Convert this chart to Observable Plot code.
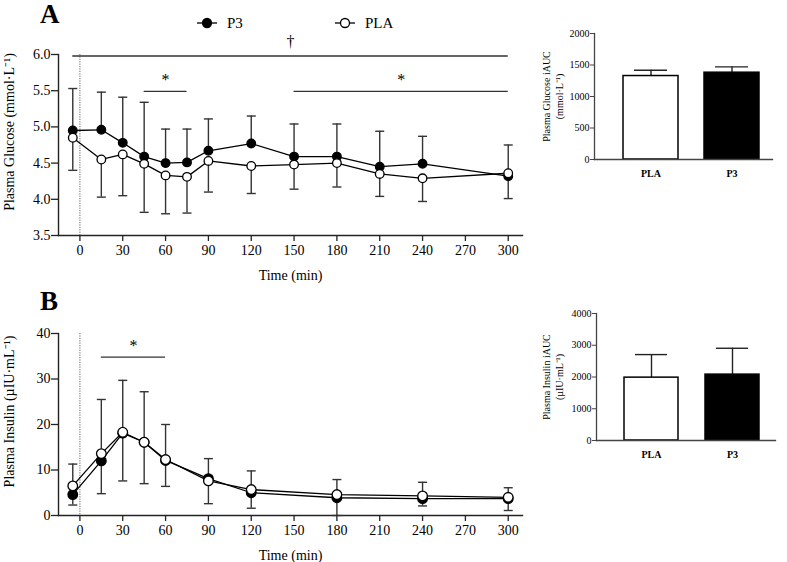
<!DOCTYPE html>
<html><head><meta charset="utf-8">
<script src="https://cdn.jsdelivr.net/npm/d3@7"></script>
<script src="https://cdn.jsdelivr.net/npm/@observablehq/plot@0.6"></script>
<style>
body{margin:0;background:#fff;}
#wrap{position:relative;width:787px;height:562px;overflow:hidden;font-family:"Liberation Serif",serif;background:#fff;}
#wrap svg, #wrap svg text, #wrap svg g{font-family:"Liberation Serif",serif !important;}
.panel{position:absolute;}
.lab{position:absolute;font-weight:bold;font-size:27px;line-height:1;font-family:"Liberation Serif",serif;}
</style></head><body><div id="wrap"></div>
<script>
// ---------- Data ----------
const groups = ["PLA", "P3"];
const timeTicks = [0, 30, 60, 90, 120, 150, 180, 210, 240, 270, 300];

// Panel A: plasma glucose (mmol·L-1)
const glucoseTimes = [-5, 15, 30, 45, 60, 75, 90, 120, 150, 180, 210, 240, 300];
const glucoseP3 = [4.95, 4.96, 4.78, 4.59, 4.50, 4.51, 4.67, 4.77, 4.59, 4.59, 4.45, 4.49, 4.32];
const glucoseP3Sd = [0.58, 0.52, 0.63, 0.75, 0.47, 0.46, 0.44, 0.38, 0.45, 0.45, 0.49, 0.38, 0.43];
const glucosePLA = [4.85, 4.55, 4.62, 4.49, 4.33, 4.31, 4.53, 4.46, 4.48, 4.50, 4.35, 4.29, 4.36];
const glucosePLASd = [0.45, 0.52, 0.57, 0.67, 0.53, 0.50, 0.43, 0.38, 0.34, 0.33, 0.31, 0.32, 0.35];
const glucoseTicks = [3.5, 4.0, 4.5, 5.0, 5.5, 6.0];
const glucoseSig = [
  {x1: -5, x2: 300, y: 5.98, mark: "†"},
  {x1: 45, x2: 75, y: 5.49, mark: "*"},
  {x1: 150, x2: 300, y: 5.49, mark: "*"}
];

// Panel B: plasma insulin (µIU·mL-1)
const insulinTimes = [-5, 15, 30, 45, 60, 90, 120, 180, 240, 300];
const insulinP3 = [4.6, 12.0, 18.1, 16.1, 12.1, 8.1, 5.0, 3.9, 3.7, 3.7];
const insulinP3Sd = [2.3, 7.2, 10.5, 9.1, 5.7, 5.5, 3.4, 3.9, 1.6, 2.6];
const insulinPLA = [6.5, 13.6, 18.3, 16.1, 12.3, 7.6, 5.7, 4.6, 4.3, 4.0];
const insulinPLASd = [4.8, 11.9, 11.4, 11.1, 7.7, 4.9, 4.1, 3.3, 3.0, 2.1];
const insulinTicks = [0, 10, 20, 30, 40];
const insulinSig = [{x1: 15, x2: 60, y: 34.8, mark: "*"}];

// iAUC bars
const glucoseAUC = [1325, 1378];
const glucoseAUCSd = [92, 92];
const glucoseAUCTicks = [0, 500, 1000, 1500, 2000];
const insulinAUC = [1980, 2075];
const insulinAUCSd = [726, 830];
const insulinAUCTicks = [0, 1000, 2000, 3000, 4000];

const doseTime = 0;
const xDomain = [-15, 310];
const FONT = "Liberation Serif";

// ---------- Helpers ----------
const wrap = document.getElementById("wrap");
function place(el, left, top) {
  const d = document.createElement("div");
  d.className = "panel"; d.style.left = left + "px"; d.style.top = top + "px";
  d.appendChild(el); wrap.appendChild(d);
}
const capSymbol = {draw(ctx, size) { const w = Math.sqrt(size / Math.PI); ctx.moveTo(-w, 0); ctx.lineTo(w, 0); }};
const rows = (times, vals, sds) => times.map((t, i) => ({t, v: vals[i], sd: sds[i]}));

function linePanel({p3, pla, yDomain, yTicks, yFmt, sig, yLabel, height, marginTop, marginBottom, r, p3Dir, plaDir}) {
  const upP3 = p3Dir > 0, upPLA = plaDir > 0;
  const end = (d, up) => up ? d.v + d.sd : d.v - d.sd;
  return Plot.plot({
    width: 530, height, marginLeft: 58, marginRight: 8, marginTop, marginBottom,
    style: {fontFamily: FONT, fontSize: "14px", color: "#000", background: "transparent", overflow: "visible"},
    x: {domain: xDomain},
    y: {domain: yDomain},
    marks: [
      Plot.frame({anchor: "left", stroke: "#222", strokeWidth: 1.4}),
      Plot.frame({anchor: "bottom", stroke: "#222", strokeWidth: 1.4}),
      Plot.ruleX([doseTime], {stroke: "#666", strokeWidth: 1, strokeDasharray: "1.2,1.2"}),
      Plot.ruleY(sig, {x1: "x1", x2: "x2", y: "y", stroke: "#333", strokeWidth: 1.4}),
      Plot.text(sig.filter(d => d.mark === "*"), {x: d => (d.x1 + d.x2) / 2, y: "y", text: "mark", fontFamily: FONT, fontSize: 16, lineAnchor: "bottom", dy: -6, fill: "#000"}),
      Plot.text(sig.filter(d => d.mark !== "*"), {x: d => (d.x1 + d.x2) / 2, y: "y", text: "mark", fontFamily: FONT, fontSize: 16, lineAnchor: "bottom", dy: -9, fill: "#000"}),
      Plot.ruleX(p3, {x: "t", y1: "v", y2: d => end(d, upP3), stroke: "#333", strokeWidth: 1.4}),
      Plot.dot(p3, {x: "t", y: d => end(d, upP3), symbol: capSymbol, r: 4.5, stroke: "#333", strokeWidth: 1.4, fill: "none"}),
      Plot.ruleX(pla, {x: "t", y1: "v", y2: d => end(d, upPLA), stroke: "#333", strokeWidth: 1.4}),
      Plot.dot(pla, {x: "t", y: d => end(d, upPLA), symbol: capSymbol, r: 4.5, stroke: "#333", strokeWidth: 1.4, fill: "none"}),
      Plot.line(p3, {x: "t", y: "v", stroke: "#000", strokeWidth: 1.3}),
      Plot.line(pla, {x: "t", y: "v", stroke: "#000", strokeWidth: 1.3}),
      Plot.dot(p3, {x: "t", y: "v", r, fill: "#000", stroke: "#000", strokeWidth: 1.3}),
      Plot.dot(pla, {x: "t", y: "v", r, fill: "#fff", stroke: "#000", strokeWidth: 1.3}),
      Plot.axisX({ticks: timeTicks, tickSize: 6, tickPadding: 4, stroke: "#222", strokeWidth: 1.3, label: null, fontFamily: FONT, fontSize: 14, fill: "#000"}),
      Plot.axisY({ticks: yTicks, tickFormat: yFmt, tickSize: 7, tickPadding: 1, stroke: "#222", strokeWidth: 1.3, label: null, fontFamily: FONT, fontSize: 14, fill: "#000"}),
      Plot.text([yLabel], {frameAnchor: "left", text: d => d, rotate: -90, dx: -49, dy: -13, fontFamily: FONT, fontSize: 14, textAnchor: "middle", lineAnchor: "middle", fill: "#000"}),
      Plot.text(["Time (min)"], {frameAnchor: "bottom", text: d => d, dy: 40, fontFamily: FONT, fontSize: 14, textAnchor: "middle", lineAnchor: "middle", fill: "#000"})
    ]
  });
}

function barPanel({vals, sds, ticks, yMax, yLabel, marginLeft, marginRight, marginTop, marginBottom, pi, po, align}) {
  const data = groups.map((g, i) => ({g, v: vals[i], sd: sds[i]}));
  return Plot.plot({
    width: 257, height: 200, marginLeft, marginRight, marginTop, marginBottom,
    style: {fontFamily: FONT, fontSize: "10px", color: "#000", background: "transparent", overflow: "visible"},
    x: {domain: groups, paddingInner: pi, paddingOuter: po, align},
    y: {domain: [0, yMax]},
    marks: [
      Plot.ruleX(data, {x: "g", y1: "v", y2: d => d.v + d.sd, stroke: "#222", strokeWidth: 1.4}),
      Plot.tickY(data, {x: "g", y: d => d.v + d.sd, inset: 11, stroke: "#222", strokeWidth: 1.4}),
      Plot.barY(data, {x: "g", y: "v", fill: d => d.g === "P3" ? "#000" : "#fff", stroke: "#000", strokeWidth: 1.5, inset: 0}),
      Plot.frame({anchor: "left", stroke: "#444", strokeWidth: 1.3}),
      Plot.frame({anchor: "bottom", stroke: "#444", strokeWidth: 1.3}),
      Plot.axisY({ticks, tickFormat: d3.format("d"), tickSize: 4, tickPadding: 1, label: null, fontFamily: FONT, fontSize: 10, stroke: "#444", fill: "#000"}),
      Plot.axisX({tickSize: 0, tickPadding: 10, label: null, fontFamily: FONT, fontSize: 10, fontWeight: "bold", fill: "#000"}),
      Plot.text([yLabel], {frameAnchor: "left", text: d => d, rotate: -90, dx: -(marginLeft - 21.5), fontFamily: FONT, fontSize: 10, lineHeight: 1.3, textAnchor: "middle", lineAnchor: "middle", fill: "#000"})
    ]
  });
}

// ---------- Panel A ----------
place(linePanel({
  p3: rows(glucoseTimes, glucoseP3, glucoseP3Sd),
  pla: rows(glucoseTimes, glucosePLA, glucosePLASd),
  yDomain: [3.5, 6.0], yTicks: glucoseTicks, yFmt: d3.format(".1f"), sig: glucoseSig,
  yLabel: "Plasma Glucose (mmol·L⁻¹)", height: 285, marginTop: 54, marginBottom: 50, r: 4.3,
  p3Dir: 1, plaDir: -1
}), 0, 0);

// ---------- Panel B ----------
place(linePanel({
  p3: rows(insulinTimes, insulinP3, insulinP3Sd),
  pla: rows(insulinTimes, insulinPLA, insulinPLASd),
  yDomain: [0, 40], yTicks: insulinTicks, yFmt: d3.format("d"), sig: insulinSig,
  yLabel: "Plasma Insulin (µIU·mL⁻¹)", height: 277, marginTop: 48, marginBottom: 47, r: 4.8,
  p3Dir: -1, plaDir: 1
}), 0, 285);

// ---------- iAUC bars ----------
place(barPanel({vals: glucoseAUC, sds: glucoseAUCSd, ticks: glucoseAUCTicks, yMax: 2000,
  yLabel: "Plasma Glucose iAUC\n(mmol·L⁻¹)", marginLeft: 64, marginRight: 15, marginTop: 33, marginBottom: 41,
  pi: 0.325, po: 0.2545, align: 0.675}), 530, 0);
place(barPanel({vals: insulinAUC, sds: insulinAUCSd, ticks: insulinAUCTicks, yMax: 4000,
  yLabel: "Plasma Insulin iAUC\n(µIU·mL⁻¹)", marginLeft: 66, marginRight: 12, marginTop: 23, marginBottom: 50,
  pi: 0.329, po: 0.256, align: 0.643}), 530, 290);

// ---------- Panel letters & legend ----------
for (const [t, top] of [["A", 1], ["B", 287.5]]) {
  const d = document.createElement("div"); d.className = "lab"; d.textContent = t;
  d.style.left = "40px"; d.style.top = top + "px"; wrap.appendChild(d);
}
const legendItems = [{name: "P3", fill: "#000", x: 197}, {name: "PLA", fill: "#fff", x: 335}];
const ns = "http://www.w3.org/2000/svg";
const lg = document.createElementNS(ns, "svg");
lg.setAttribute("width", 530); lg.setAttribute("height", 40);
lg.style.position = "absolute"; lg.style.left = "0px"; lg.style.top = "0px";
for (const it of legendItems) {
  const ln = document.createElementNS(ns, "line");
  ln.setAttribute("x1", it.x); ln.setAttribute("x2", it.x + 20); ln.setAttribute("y1", 23); ln.setAttribute("y2", 23);
  ln.setAttribute("stroke", "#000"); ln.setAttribute("stroke-width", 1.3); lg.appendChild(ln);
  const c = document.createElementNS(ns, "circle");
  c.setAttribute("cx", it.x + 10); c.setAttribute("cy", 23); c.setAttribute("r", 4.5);
  c.setAttribute("fill", it.fill); c.setAttribute("stroke", "#000"); c.setAttribute("stroke-width", 1.3); lg.appendChild(c);
  const tx = document.createElementNS(ns, "text");
  tx.setAttribute("x", it.x + 30); tx.setAttribute("y", 28);
  tx.setAttribute("font-family", FONT); tx.setAttribute("font-size", 15);
  tx.textContent = it.name; lg.appendChild(tx);
}
wrap.appendChild(lg);
</script>
</body></html>
